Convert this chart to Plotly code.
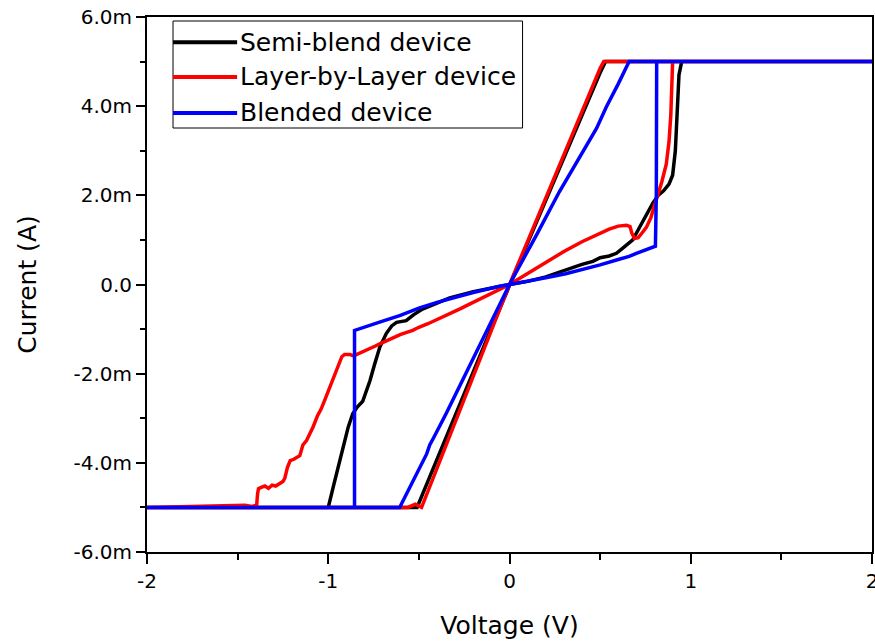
import plotly.graph_objects as go

# ---- data (voltage in V, current in mA) ----
names = ["Semi-blend device", "Layer-by-Layer device", "Blended device"]
colors = ["#000000", "#ff0000", "#0000ff"]

semi_v = [0, 0.1, 0.2, 0.31, 0.4, 0.46, 0.5, 0.55, 0.59, 0.62, 0.64, 0.68, 0.72, 0.76, 0.79, 0.82, 0.85, 0.88, 0.9,
          0.915, 0.925, 0.935, 0.95, 2.0, 0.53, 0.5, 0.4, 0.3, 0.2, 0.1, 0, -0.1, -0.2, -0.3, -0.4, -0.5, -0.51, -2.0,
          -1.0, -0.97, -0.94, -0.92, -0.89, -0.865, -0.84, -0.81, -0.79, -0.77, -0.745, -0.716, -0.68, -0.65, -0.623,
          -0.57, -0.53, -0.48, -0.4, -0.33, -0.2, -0.1, 0]
semi_i = [0, 0.07, 0.17, 0.33, 0.45, 0.52, 0.6, 0.64, 0.7, 0.8, 0.86, 1.0, 1.3, 1.6, 1.82, 2.0, 2.1, 2.25, 2.45,
          3.0, 4.0, 4.7, 5.0, 5.0, 5.0, 4.75, 3.8, 2.85, 1.9, 0.95, 0, -0.98, -1.96, -2.95, -3.93, -4.9, -5.0, -5.0,
          -5.0, -4.5, -4.0, -3.66, -3.2, -2.9, -2.75, -2.62, -2.4, -2.16, -1.8, -1.41, -1.1, -0.93, -0.85,
          -0.81, -0.68, -0.55, -0.42, -0.3, -0.16, -0.07, 0]

lbl_v = [0, 0.1, 0.2, 0.3, 0.4, 0.5, 0.55, 0.6, 0.645, 0.665, 0.675, 0.69, 0.71, 0.73, 0.755, 0.78, 0.81, 0.84,
         0.865, 0.88, 0.89, 0.895, 0.9, 2.0, 0.52, 0.5, 0.4, 0.3, 0.2, 0.1, 0, -0.1, -0.2, -0.3, -0.4, -0.47, -0.485,
         -0.52, -0.55, -0.56, -2.0, -1.46, -1.42, -1.395, -1.39, -1.385, -1.37, -1.35, -1.33, -1.31, -1.29, -1.27,
         -1.25, -1.24, -1.225, -1.21, -1.19, -1.157, -1.14, -1.12, -1.1, -1.085, -1.06, -1.04, -1.02, -1.0, -0.975,
         -0.955, -0.937, -0.925, -0.91, -0.88, -0.86, -0.837, -0.8, -0.77, -0.74, -0.716, -0.68, -0.645, -0.6,
         -0.534, -0.5, -0.45, -0.4, -0.33, -0.27, -0.24, -0.18, -0.12, -0.055, 0]
lbl_i = [0, 0.25, 0.5, 0.74, 0.96, 1.15, 1.24, 1.31, 1.33, 1.3, 1.15, 1.03, 1.05, 1.15, 1.28, 1.5, 1.89, 2.3,
         2.7, 3.2, 3.8, 4.5, 5.0, 5.0, 5.0, 4.85, 3.88, 2.92, 1.95, 0.98, 0, -1.03, -2.06, -3.09, -4.12, -4.85, -5.0,
         -4.93, -4.97, -5.0, -5.0, -4.95, -4.98, -4.95, -4.7, -4.58, -4.55, -4.52, -4.57, -4.5, -4.52, -4.46,
         -4.42, -4.35, -4.1, -3.95, -3.92, -3.84, -3.6, -3.5, -3.35, -3.21, -2.95, -2.8, -2.6, -2.4, -2.16,
         -1.95, -1.78, -1.62, -1.57, -1.57, -1.6, -1.56, -1.49, -1.45, -1.38, -1.33, -1.26, -1.19, -1.12,
         -1.03, -0.96, -0.88, -0.79, -0.66, -0.54, -0.48, -0.36, -0.24, -0.1, 0]

bl_v = [0, 0.128, 0.2, 0.31, 0.4, 0.5, 0.6, 0.66, 0.7, 0.75, 0.79, 0.805, 0.81, 0.812, 2.0, 0.66, 0.6, 0.534, 0.48,
        0.4, 0.275, 0.15, 0, -0.1, -0.259, -0.35, -0.42, -0.44, -0.457, -0.5, -0.55, -0.606, -2.0, -0.855, -0.855,
        -0.8, -0.7, -0.606, -0.5, -0.4, -0.33, -0.2, -0.055, 0]
bl_i = [0, 0.09, 0.15, 0.24, 0.33, 0.44, 0.56, 0.63, 0.7, 0.78, 0.83, 0.86, 2.0, 5.0, 5.0, 5.0, 4.5, 3.98, 3.5,
        2.95, 2.08, 1.12, 0, -0.83, -2.16, -2.9, -3.45, -3.6, -3.8, -4.15, -4.55, -5.0, -5.0, -5.0, -1.03,
        -0.95, -0.82, -0.70, -0.53, -0.4, -0.32, -0.18, -0.04, 0]

series_v = [semi_v, lbl_v, bl_v]
series_i = [semi_i, lbl_i, bl_i]

y_ticks = [-6, -4, -2, 0, 2, 4, 6]
y_ticktext = ["-6.0m", "-4.0m", "-2.0m", "0.0", "2.0m", "4.0m", "6.0m"]
x_ticks = [-2, -1, 0, 1, 2]
x_ticktext = ["-2", "-1", "0", "1", "2"]

FONT = "DejaVu Sans, Liberation Sans, Arial, sans-serif"

fig = go.Figure()
for v, i, n, c in zip(series_v, series_i, names, colors):
    fig.add_trace(go.Scatter(x=v, y=i, mode="lines", name=n,
                             line=dict(color=c, width=3.5), showlegend=False))

# custom legend box
lx0, lx1, ly0, ly1 = 0.0359, 0.518, 0.7925, 0.9925
fig.add_shape(type="rect", xref="paper", yref="paper", x0=lx0, x1=lx1, y0=ly0, y1=ly1,
              line=dict(color="black", width=1), fillcolor="white", layer="above")
rows = [0.953, 0.888, 0.8206]
for n, c, ry in zip(names, colors, rows):
    fig.add_shape(type="line", xref="paper", yref="paper", x0=lx0, x1=0.1243, y0=ry, y1=ry,
                  line=dict(color=c, width=4), layer="above")
    fig.add_annotation(xref="paper", yref="paper", x=0.1257, y=ry, text=n, showarrow=False,
                       xanchor="left", yanchor="middle", font=dict(family=FONT, size=25, color="black"))

fig.update_layout(
    width=875, height=643,
    margin=dict(l=147, r=3, t=17, b=91),
    paper_bgcolor="white", plot_bgcolor="white",
    font=dict(family=FONT, color="black"),
)
fig.update_xaxes(
    range=[-2, 2], tickvals=x_ticks, ticktext=x_ticktext, automargin=False,
    ticklabeloverflow="allow",
    showgrid=False, zeroline=False,
    showline=True, linecolor="black", linewidth=2, mirror=True,
    ticks="outside", ticklen=10, tickwidth=2, tickcolor="black",
    minor=dict(ticks="outside", ticklen=6, tickwidth=2, tickcolor="black", dtick=0.5, showgrid=False),
    tickfont=dict(family=FONT, size=20),
    title=dict(text="Voltage (V)", font=dict(family=FONT, size=25), standoff=24),
)
fig.update_yaxes(
    range=[-6, 6], tickvals=y_ticks, ticktext=y_ticktext, automargin=False,
    ticklabeloverflow="allow",
    showgrid=False, zeroline=False,
    showline=True, linecolor="black", linewidth=2, mirror=True,
    ticks="outside", ticklen=9, tickwidth=2, tickcolor="black",
    minor=dict(ticks="outside", ticklen=5, tickwidth=2, tickcolor="black", dtick=1, showgrid=False),
    tickfont=dict(family=FONT, size=20),
    title=dict(text="Current (A)", font=dict(family=FONT, size=25), standoff=30),
)

fig.write_html("out.html")
